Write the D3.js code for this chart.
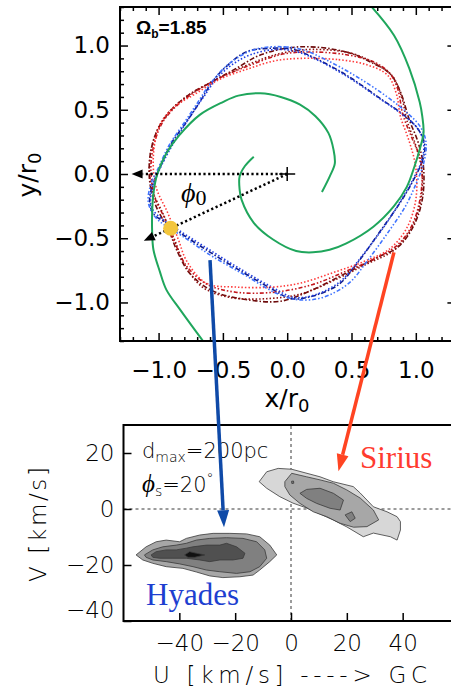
<!DOCTYPE html>
<meta charset="utf-8">
<style>
    body { margin: 0; background: #fff; }
    svg { display: block; }
</style>
<body>
<script src="https://cdnjs.cloudflare.com/ajax/libs/d3/7.8.5/d3.min.js"></script>
<script>
    // ---- top panel: orbits in the x/r0 - y/r0 plane ----
    const topTicks = [-1.0, -0.5, 0.0, 0.5, 1.0];
    const omegaB = "1.85";
    const phi0Deg = 25;          // angle of the sun below the -x axis
    const sunR = 1.0;

    // green spiral arms
    const armOne = [[-0.26,0.135],[-0.33,0.06],[-0.37,-0.02],[-0.37,-0.12],[-0.355,-0.20],[-0.26,-0.38],
        [-0.11,-0.51],[0.07,-0.60],[0.20,-0.61],[0.33,-0.59],[0.46,-0.54],[0.67,-0.41],[0.83,-0.25],
        [0.93,-0.10],[0.99,0.06],[1.03,0.19],[1.06,0.32],[1.05,0.45],[1.03,0.56],[0.95,0.82],[0.83,1.08],[0.64,1.32]];
    const armTwo = [[0.27,-0.14],[0.33,-0.02],[0.37,0.08],[0.36,0.19],[0.32,0.32],[0.22,0.45],[0.10,0.54],
        [-0.05,0.60],[-0.21,0.628],[-0.38,0.61],[-0.50,0.56],[-0.68,0.46],[-0.84,0.30],[-0.94,0.16],
        [-1.01,0.0],[-1.04,-0.15],[-1.05,-0.30],[-1.05,-0.45],[-1.04,-0.59],[-0.99,-0.76],[-0.94,-0.90],
        [-0.83,-1.06],[-0.64,-1.32]];

    // orbits (closed curves)
    const redOrbitA = [[0.10,0.99],[0.46,0.95],[0.67,0.86],[0.80,0.78],[0.88,0.64],[0.95,0.42],[1.02,0.24],
        [1.06,0.05],[1.05,-0.20],[0.98,-0.41],[0.86,-0.57],[0.70,-0.65],[0.46,-0.77],[0.20,-0.90],[-0.05,-0.99],
        [-0.30,-0.98],[-0.58,-0.91],[-0.76,-0.77],[-0.86,-0.59],[-0.92,-0.44],[-1.02,-0.25],[-1.07,-0.05],
        [-1.06,0.18],[-1.0,0.36],[-0.90,0.50],[-0.76,0.62],[-0.58,0.72],[-0.40,0.82],[-0.20,0.93]];
    const redOrbitB = [[0.15,0.95],[0.45,0.93],[0.68,0.87],[0.80,0.78],[0.86,0.66],[0.90,0.46],[0.97,0.28],
        [1.04,0.10],[1.04,-0.15],[0.97,-0.40],[0.86,-0.55],[0.68,-0.66],[0.45,-0.76],[0.20,-0.86],[-0.10,-0.92],
        [-0.40,-0.92],[-0.62,-0.86],[-0.78,-0.72],[-0.88,-0.52],[-0.95,-0.35],[-1.03,-0.18],[-1.06,0.05],
        [-1.03,0.25],[-0.97,0.40],[-0.86,0.53],[-0.70,0.65],[-0.50,0.76],[-0.28,0.85],[-0.05,0.93]];
    const redOrbitC = [[0.10,0.90],[0.40,0.89],[0.62,0.85],[0.78,0.77],[0.85,0.62],[0.88,0.45],[0.95,0.25],
        [1.0,0.05],[1.0,-0.20],[0.93,-0.42],[0.80,-0.58],[0.60,-0.68],[0.35,-0.77],[0.10,-0.85],[-0.11,-0.88],
        [-0.40,-0.88],[-0.63,-0.85],[-0.78,-0.68],[-0.85,-0.50],[-0.93,-0.30],[-1.02,-0.10],[-1.04,0.15],
        [-0.99,0.38],[-0.88,0.52],[-0.72,0.62],[-0.52,0.74],[-0.30,0.82],[-0.10,0.88]];
    const redOrbitD = [[0.20,0.97],[0.50,0.94],[0.70,0.85],[0.82,0.76],[0.89,0.60],[0.93,0.42],[1.00,0.22],
        [1.05,0.0],[1.03,-0.25],[0.95,-0.45],[0.82,-0.60],[0.62,-0.70],[0.38,-0.82],[0.12,-0.93],[-0.15,-0.97],
        [-0.45,-0.96],[-0.66,-0.88],[-0.80,-0.70],[-0.88,-0.50],[-0.97,-0.30],[-1.05,-0.12],[-1.07,0.10],
        [-1.02,0.32],[-0.93,0.47],[-0.80,0.59],[-0.62,0.70],[-0.42,0.80],[-0.18,0.90],[0.0,0.95]];
    const blueOrbitA = [[-0.32,0.95],[-0.11,0.98],[0.05,0.97],[0.20,0.91],[0.46,0.77],[0.72,0.59],[0.93,0.44],
        [1.03,0.33],[1.07,0.22],[1.05,0.10],[0.98,-0.05],[0.88,-0.22],[0.72,-0.45],[0.54,-0.70],[0.40,-0.86],
        [0.20,-0.95],[0.03,-0.97],[-0.11,-0.90],[-0.37,-0.75],[-0.63,-0.59],[-0.83,-0.46],[-0.94,-0.38],
        [-1.04,-0.31],[-1.07,-0.20],[-1.04,-0.07],[-0.98,0.07],[-0.90,0.24],[-0.78,0.41],[-0.68,0.56],
        [-0.58,0.72],[-0.47,0.84]];
    const blueOrbitB = [[-0.28,0.93],[-0.08,0.97],[0.08,0.95],[0.25,0.88],[0.48,0.75],[0.70,0.60],[0.90,0.46],
        [1.01,0.36],[1.06,0.25],[1.05,0.12],[0.99,-0.02],[0.90,-0.18],[0.76,-0.40],[0.58,-0.64],[0.42,-0.83],
        [0.22,-0.94],[0.05,-0.96],[-0.12,-0.88],[-0.38,-0.73],[-0.62,-0.58],[-0.84,-0.44],[-0.96,-0.36],
        [-1.05,-0.27],[-1.06,-0.16],[-1.02,-0.03],[-0.95,0.12],[-0.86,0.28],[-0.76,0.44],[-0.65,0.60],
        [-0.55,0.74],[-0.43,0.85]];
    const blueOrbitC = [[-0.25,0.97],[-0.02,0.99],[0.14,0.96],[0.30,0.89],[0.52,0.77],[0.75,0.62],[0.94,0.47],
        [1.04,0.36],[1.08,0.24],[1.06,0.08],[1.0,-0.08],[0.92,-0.25],[0.78,-0.46],[0.62,-0.68],[0.48,-0.85],
        [0.28,-0.96],[0.10,-0.98],[-0.08,-0.93],[-0.34,-0.78],[-0.60,-0.63],[-0.82,-0.48],[-0.95,-0.40],
        [-1.03,-0.33],[-1.08,-0.22],[-1.06,-0.08],[-1.0,0.05],[-0.92,0.22],[-0.80,0.40],[-0.70,0.55],
        [-0.60,0.70],[-0.45,0.86]];

    // ---- bottom panel: U-V velocity plane ----
    const uTicks = [-40, -20, 0, 20, 40];
    const vTicks = [-40, -20, 0, 20];
    const grays = ["#d7d7d7", "#a7a7a7", "#808080", "#505050", "#111111"];

    const siriusL1 = [[-11.4,9.75],[-8.7,13.3],[-4.6,14.5],[0.25,14.2],[10.4,11.5],[15.1,9.75],[22.3,8.0],
        [24.8,5.7],[27.2,3.2],[29.5,0.8],[34.4,-1.0],[38.0,-2.75],[39.2,-4.5],[39.2,-7.5],[38.0,-11.1],
        [35.6,-9.9],[29.5,-8.6],[25.9,-9.9],[20,-6.4],[15.1,-3.9],[5.6,0.36],[0.7,2.1],[-4.0,4.4],[-8.7,7.4]];
    const siriusL2 = [[-2.2,9.75],[0.25,12.75],[5.6,11.5],[10.4,10.4],[15.2,9.2],[20,6.8],[24.8,3.9],
        [29.5,-0.36],[31.4,-3.9],[27.2,-6.3],[22.4,-6.5],[17.6,-5.1],[12.8,-2.75],[8.0,-1.0],[3.2,2.0],
        [-0.4,5.0],[-2.2,8.0]];
    const siriusL3 = [[3.2,5.6],[5.6,7.0],[10.4,7.4],[15.2,5.6],[18.8,3.2],[17.6,-0.36],[14.0,0.25],[9.2,2.0],[5.6,3.8]];
    const siriusL3b = [[19.4,-2.1],[21.8,-1.0],[23.0,-3.3],[21.2,-4.5]];
    const siriusSpot = [[0.2,9.9],[0.9,10.0],[1.0,9.2],[0.3,9.1]];
    const hyadesL2 = [[-55.5,-16.4],[-51.9,-13.5],[-48.3,-11.7],[-44.7,-11.1],[-39.9,-11.7],[-37.5,-10.5],
        [-32.7,-9.3],[-27.9,-8.7],[-21.9,-8.7],[-15.9,-8.9],[-11.2,-9.9],[-7.6,-12.9],[-5.1,-16.4],[-7.6,-18.8],
        [-11.2,-21.8],[-13.6,-23.6],[-18.3,-24.2],[-24.4,-24.5],[-29.1,-23.9],[-33.9,-22.5],[-38.7,-21.2],
        [-44.7,-20.6],[-49.5,-19.4],[-53.1,-18.2]];
    const hyadesL3 = [[-52.5,-16.4],[-49.5,-14.6],[-45.9,-13.5],[-41.1,-12.9],[-37.5,-12.25],[-33.9,-11.1],
        [-29.1,-10.5],[-23.1,-10.25],[-17.2,-10.5],[-12.3,-11.7],[-9.4,-14.6],[-8.7,-17.6],[-11.2,-20.6],
        [-14.7,-22.4],[-19.5,-23.0],[-25.5,-22.4],[-30.3,-21.8],[-35.1,-20.6],[-39.9,-19.6],[-44.7,-18.8],
        [-49.5,-18.2],[-51.9,-17.25]];
    const hyadesL4 = [[-50.1,-16.4],[-48.3,-15.25],[-44.7,-14.6],[-41.1,-14.6],[-37.5,-14.0],[-35.1,-13.5],
        [-30.3,-12.9],[-25.5,-12.9],[-23.1,-12.25],[-19.5,-13.5],[-16.5,-15.8],[-17.2,-17.6],[-20.8,-18.2],
        [-25.5,-18.2],[-29.1,-18.8],[-32.7,-18.2],[-37.5,-17.6],[-42.3,-17.6],[-47.1,-17.6],[-49.5,-17.25]];
    const hyadesL5 = [[-38.1,-16.4],[-36.3,-15.25],[-33.9,-15.8],[-30.9,-16.4],[-34.5,-17.25],[-36.9,-17.25]];

    // arrows linking the panels: [top panel x,y] -> [bottom panel U,V]
    const hyadesLink = [[-0.6, -0.67], [-24, -6.5]];
    const siriusLink = [[0.83, -0.61], [17, 13.5]];

    const W = 451, H = 688;
    const sansTop = "'DejaVu Sans', Verdana, sans-serif";
    const sansLow = "'DejaVu Sans', Verdana, sans-serif";
    const lowWeight = 200;
    const serif = "'Liberation Serif', 'Times New Roman', serif";

    const svg = d3.select("body").append("svg")
        .attr("width", W).attr("height", H);

    const x = d3.scaleLinear().domain([-1.3, 1.3]).range([120, 454.4]);
    const y = d3.scaleLinear().domain([-1.3, 1.3]).range([341, 7]);

    svg.append("clipPath").attr("id", "clipTop")
        .append("rect").attr("x", 120).attr("y", 7).attr("width", 334.4).attr("height", 334);

    const topG = svg.append("g").attr("class", "top");
    const plot = topG.append("g").attr("clip-path", "url(#clipTop)");

    const closed = d3.line().x(d => x(d[0])).y(d => y(d[1])).curve(d3.curveCatmullRomClosed.alpha(0.5));
    const open = d3.line().x(d => x(d[0])).y(d => y(d[1])).curve(d3.curveCatmullRom.alpha(0.5));

    const orbits = [
        {pts: redOrbitA, color: "#6e0c0c", dash: "5,2,1.5,2"},
        {pts: blueOrbitA, color: "#0f1a8a", dash: "5,2,1.5,2"},
        {pts: redOrbitB, color: "#c4161c", dash: "4,2,1.5,2,1.5,2"},
        {pts: blueOrbitB, color: "#1e3ce0", dash: "1.5,2"},
        {pts: redOrbitD, color: "#8e1212", dash: "1.5,2"},
        {pts: redOrbitC, color: "#ff3a3a", dash: "1.5,2"},
        {pts: blueOrbitC, color: "#3f73ff", dash: "4,2,1.5,2,1.5,2"}
    ];
    plot.selectAll("path.orbit").data(orbits).enter().append("path")
        .attr("class", "orbit")
        .attr("d", d => closed(d.pts))
        .attr("fill", "none")
        .attr("stroke", d => d.color)
        .attr("stroke-width", 1.6)
        .attr("stroke-dasharray", d => d.dash);

    plot.selectAll("path.arm").data([armOne, armTwo]).enter().append("path")
        .attr("class", "arm")
        .attr("d", open)
        .attr("fill", "none")
        .attr("stroke", "#1fa65c")
        .attr("stroke-width", 2);

    // line with a filled arrowhead
    function arrow(g, x0, y0, x1, y1, color, width, headLen, headW, dash) {
        const a = Math.atan2(y1 - y0, x1 - x0);
        const bx = x1 - headLen * Math.cos(a), by = y1 - headLen * Math.sin(a);
        g.append("line").attr("x1", x0).attr("y1", y0).attr("x2", bx).attr("y2", by)
            .attr("stroke", color).attr("stroke-width", width)
            .attr("stroke-dasharray", dash || null);
        const px = -Math.sin(a) * headW / 2, py = Math.cos(a) * headW / 2;
        g.append("path")
            .attr("d", `M${x1},${y1}L${bx + px},${by + py}L${bx - px},${by - py}Z`)
            .attr("fill", color);
    }
    const phi = Math.PI + phi0Deg * Math.PI / 180;
    arrow(topG, x(0), y(0), x(-1.21), y(0), "#000", 2.5, 11, 9, "2.2,2.6");
    arrow(topG, x(0), y(0), x(1.23 * Math.cos(phi)), y(1.23 * Math.sin(phi)), "#000", 2.5, 11, 9, "2.2,2.6");

    // centre cross
    topG.append("path")
        .attr("d", `M${x(0) - 8},${y(0)}H${x(0) + 8}M${x(0)},${y(0) - 7}V${y(0) + 7}`)
        .attr("stroke", "#000").attr("stroke-width", 1.5);

    topG.append("circle")
        .attr("cx", x(sunR * Math.cos(phi))).attr("cy", y(sunR * Math.sin(phi)))
        .attr("r", 7.5).attr("fill", "#f3c63c");

    topG.append("text")
        .attr("x", 181).attr("y", 202)
        .attr("font-family", serif).attr("font-size", 28)
        .call(t => {
            t.append("tspan").attr("font-style", "italic").text("ϕ");
            t.append("tspan").attr("font-size", 22).attr("dy", 3).text("0");
        });

    // frame and ticks
    topG.append("rect").attr("x", 120).attr("y", 7).attr("width", 334.4).attr("height", 334)
        .attr("fill", "none").attr("stroke", "#000").attr("stroke-width", 2);

    const minor = x.ticks(26).filter(val => !topTicks.some(t => Math.abs(t - val) < 1e-9));
    const fmt = d3.format(".1f");
    function styleAxis(g, font, size, weight) {
        g.select(".domain").remove();
        g.attr("font-family", font).attr("font-size", size).attr("font-weight", weight || null);
        g.selectAll("line").attr("stroke-width", 1.5);
    }
    topG.append("g").attr("transform", "translate(120,0)")
        .call(d3.axisLeft(y).tickValues(topTicks).tickSize(-8).tickPadding(10).tickFormat(fmt))
        .call(g => styleAxis(g, sansTop, 23));
    topG.append("g").attr("transform", "translate(120,0)")
        .call(d3.axisLeft(y).tickValues(minor).tickSize(-4).tickFormat(""))
        .call(g => styleAxis(g, sansTop, 23));
    topG.append("g").attr("transform", "translate(0,341)")
        .call(d3.axisBottom(x).tickValues(topTicks).tickSize(-8).tickPadding(21).tickFormat(fmt))
        .call(g => styleAxis(g, sansTop, 23));
    topG.append("g").attr("transform", "translate(0,341)")
        .call(d3.axisBottom(x).tickValues(minor).tickSize(-4).tickFormat(""))
        .call(g => styleAxis(g, sansTop, 23));
    topG.append("g").attr("transform", "translate(0,7)")
        .call(d3.axisTop(x).tickValues(topTicks).tickSize(-8).tickFormat(""))
        .call(g => styleAxis(g, sansTop, 23));
    topG.append("g").attr("transform", "translate(0,7)")
        .call(d3.axisTop(x).tickValues(minor).tickSize(-4).tickFormat(""))
        .call(g => styleAxis(g, sansTop, 23));
    topG.append("g").attr("transform", "translate(454.4,0)")
        .call(d3.axisRight(y).tickValues(topTicks).tickSize(-7).tickFormat(""))
        .call(g => styleAxis(g, sansTop, 23));

    topG.append("text").attr("x", 287).attr("y", 407)
        .attr("text-anchor", "middle").attr("font-family", sansTop).attr("font-size", 25)
        .call(t => {
            t.append("tspan").text("x/r");
            t.append("tspan").attr("font-size", 18).attr("dy", 5).text("0");
        });
    topG.append("text").attr("transform", "translate(36,175) rotate(-90)")
        .attr("text-anchor", "middle").attr("font-family", sansTop).attr("font-size", 25)
        .call(t => {
            t.append("tspan").text("y/r");
            t.append("tspan").attr("font-size", 18).attr("dy", 5).text("0");
        });
    topG.append("text").attr("x", 136).attr("y", 34)
        .attr("font-family", "'Liberation Sans', Arial, sans-serif").attr("font-size", 19).attr("font-weight", "bold")
        .call(t => {
            t.append("tspan").text("Ω");
            t.append("tspan").attr("font-size", 12).attr("dy", 4).text("b");
            t.append("tspan").attr("dy", -4).text("=" + omegaB);
        });

    // ---- bottom panel ----
    const u = d3.scaleLinear().domain([-60, 60]).range([123.5, 458.5]);
    const v = d3.scaleLinear().domain([-40, 30]).range([621, 425]);
    const low = svg.append("g").attr("class", "low");
    const poly = d3.line().x(d => u(d[0])).y(d => v(d[1]));

    low.append("line").attr("x1", u(0)).attr("x2", u(0)).attr("y1", v(-40)).attr("y2", v(30))
        .attr("stroke", "#222").attr("stroke-width", 0.9).attr("stroke-dasharray", "3,3");
    low.append("line").attr("x1", u(-60)).attr("x2", u(60)).attr("y1", v(0)).attr("y2", v(0))
        .attr("stroke", "#222").attr("stroke-width", 0.9).attr("stroke-dasharray", "3,3");

    const contours = [
        {pts: siriusL1, level: 0}, {pts: siriusL2, level: 1}, {pts: siriusL3, level: 2},
        {pts: siriusL3b, level: 2}, {pts: siriusSpot, level: 2},
        {pts: hyadesL2, level: 1}, {pts: hyadesL3, level: 2}, {pts: hyadesL4, level: 3},
        {pts: hyadesL5, level: 4}
    ];
    low.selectAll("path.cont").data(contours).enter().append("path")
        .attr("class", "cont")
        .attr("d", d => poly(d.pts) + "Z")
        .attr("fill", d => grays[d.level])
        .attr("stroke", "#3a3a3a").attr("stroke-width", 0.8);

    low.append("rect").attr("x", 123.5).attr("y", 425).attr("width", 335).attr("height", 196)
        .attr("fill", "none").attr("stroke", "#000").attr("stroke-width", 2);

    low.append("g").attr("transform", "translate(123.5,0)")
        .call(d3.axisLeft(v).tickValues(vTicks).tickSize(-8).tickPadding(9).tickFormat(d3.format("d")))
        .call(g => styleAxis(g, sansLow, 23, lowWeight))
        .call(g => g.selectAll(".tick text").attr("dy", d => d === -40 ? "-0.15em" : "0.32em"));
    low.append("g").attr("transform", "translate(0,621)")
        .call(d3.axisBottom(u).tickValues(uTicks).tickSize(-8).tickPadding(14).tickFormat(d3.format("d")))
        .call(g => styleAxis(g, sansLow, 23, lowWeight));

    low.append("text").attr("x", 153).attr("y", 683)
        .attr("font-family", sansLow).attr("font-size", 23).attr("font-weight", lowWeight)
        .attr("textLength", 274).attr("lengthAdjust", "spacing")
        .text("U [km/s] ----> GC");
    low.append("text").attr("transform", "translate(46,582) rotate(-90)")
        .attr("font-family", sansLow).attr("font-size", 23).attr("font-weight", lowWeight)
        .attr("textLength", 115).attr("lengthAdjust", "spacing")
        .text("V [km/s]");

    low.append("text").attr("x", 142).attr("y", 458)
        .attr("font-family", sansLow).attr("font-size", 21).attr("font-weight", lowWeight)
        .call(t => {
            t.append("tspan").text("d");
            t.append("tspan").attr("font-size", 14).attr("dy", 4).text("max");
            t.append("tspan").attr("dy", -4).text("=200pc");
        });
    low.append("text").attr("x", 142).attr("y", 492)
        .attr("font-family", sansLow).attr("font-size", 21).attr("font-weight", lowWeight)
        .call(t => {
            t.append("tspan").attr("font-family", serif).attr("font-style", "italic")
                .attr("font-size", 25).attr("font-weight", "normal").text("ϕ");
            t.append("tspan").attr("font-size", 14).attr("dy", 4).text("s");
            t.append("tspan").attr("dy", -4).text("=20");
            t.append("tspan").attr("font-size", 14).attr("dy", -9).text("°");
        });

    low.append("text").attr("x", 360).attr("y", 468)
        .attr("font-family", serif).attr("font-size", 31).attr("fill", "#ff3b2f")
        .text("Sirius");
    low.append("text").attr("x", 146).attr("y", 605)
        .attr("font-family", serif).attr("font-size", 31).attr("fill", "#1e3fd0")
        .text("Hyades");

    // linking arrows
    arrow(svg, x(hyadesLink[0][0]), y(hyadesLink[0][1]), u(hyadesLink[1][0]), v(hyadesLink[1][1]),
        "#0f4aa8", 3.5, 17, 12);
    arrow(svg, x(siriusLink[0][0]), y(siriusLink[0][1]), u(siriusLink[1][0]), v(siriusLink[1][1]),
        "#ff4422", 3.5, 17, 12);
</script>
</body>
</html>
